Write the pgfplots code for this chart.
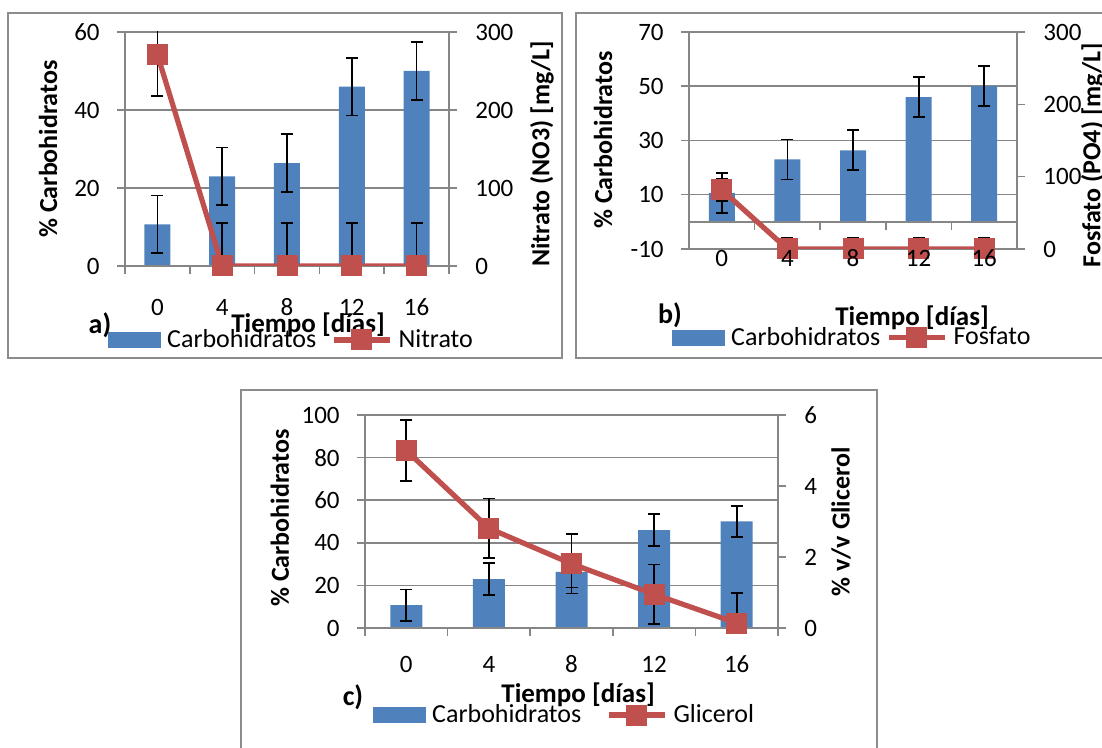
\documentclass[border=0pt]{standalone}
\usepackage{pgfplots}
\pgfplotsset{compat=1.18}
\usepackage{fontspec}
\setmainfont{Carlito}
\definecolor{barblue}{HTML}{4F81BD}
\definecolor{linered}{HTML}{C0504D}
\definecolor{axgrey}{HTML}{868686}
\definecolor{framegrey}{HTML}{8C8C8C}

\newcommand{\xaxisticks}{%
  \draw[axgrey,line width=0.75pt] (axis cs:-0.5,0) -- (axis cs:4.5,0);
  \pgfplotsinvokeforeach{-0.5,0.5,1.5,2.5,3.5,4.5}{\draw[axgrey, line width=0.75pt] (axis cs:##1,0) -- ++(0pt,-4pt);}%
}

\pgfplotsset{
  base/.style={
    scale only axis, anchor=south west,
    xmin=-0.5, xmax=4.5,
    tick align=outside, major tick length=4pt,
    tick style={axgrey, line width=0.75pt},
    axis line style={axgrey, line width=0.75pt},
    /pgf/number format/assume math mode=true,
    ticklabel style={font=\fontsize{12.5}{14}\selectfont, inner sep=0pt},
    ylabel style={font=\fontsize{13}{15}\selectfont\bfseries},
    xlabel style={font=\fontsize{13.5}{15}\selectfont\bfseries},
    clip mode=individual,
  },
  leftax/.style={base,
    axis y line*=left, axis x line*=bottom,
    xtick={0,1,2,3,4}, xticklabels={0,4,8,12,16},
    xtick style={draw=none},
    xticklabel style={anchor=center, yshift=-16.5pt},
    yticklabel style={anchor=east, xshift=-8.5pt},
    ymajorgrids, grid style={axgrey, line width=0.75pt},
  },
  rightax/.style={base,
    axis y line*=right,
    yticklabel style={anchor=west, xshift=9pt},
    legend columns=2,
    legend style={draw=none, fill=none, inner sep=0pt, anchor=west,
      font=\fontsize{13}{15}\selectfont,
      nodes={inner sep=3pt}},
    legend cell align=left,
  },
  carb/.style={ybar, bar width=13pt, fill=barblue, draw=none,
    error bars/y dir=both, error bars/y explicit,
    error bars/error bar style={black, line width=0.9pt, solid},
    error bars/error mark options={rotate=90, black, mark size=3pt, line width=0.9pt}},
  lin/.style={color=linered, line width=2.6pt, mark=square*, mark size=5pt,
    mark options={solid, fill=linered, line width=0.5pt},
    error bars/y dir=both, error bars/y explicit,
    error bars/error bar style={black, line width=0.9pt, solid},
    error bars/error mark options={rotate=90, black, mark size=3pt, line width=0.9pt},
    legend image code/.code={\draw[linered, line width=2.6pt, mark=square*, mark size=5pt, mark options={solid, fill=linered, line width=0.5pt}, mark repeat=2, mark phase=2] plot coordinates {(0pt,0pt) (14pt,0pt) (28pt,0pt)};}},
  barleg/.style={legend image code/.code={\fill[barblue] (0pt,-3.75pt) rectangle (26pt,3.75pt);}},
}

\begin{document}
\begin{tikzpicture}
\useasboundingbox (0,0) rectangle (551pt,374pt);
\draw[framegrey, line width=0.75pt] (4pt,195pt) rectangle (281pt,367.5pt);
\draw[framegrey, line width=0.75pt] (288pt,195pt) rectangle (560pt,367.5pt);
\draw[framegrey, line width=0.75pt] (120.5pt,-5pt) rectangle (438.5pt,179pt);

% ---------------- Panel a ----------------
\begin{axis}[leftax, at={(62.5pt,241pt)}, width=162pt, height=117pt,
  ymin=0, ymax=60, ytick={0,20,40,60},
  ylabel={\% Carbohidratos}, ylabel style={at={(axis description cs:-0.2377,0.5)}, anchor=center},
  xlabel={Tiempo [días]}, xlabel style={at={(axis description cs:0.565,-0.2521)}, anchor=center}]
\addplot[carb] coordinates {(0,10.7) +- (0,7.4) (1,23.0) +- (0,7.4) (2,26.4) +- (0,7.4) (3,46.0) +- (0,7.4) (4,50.0) +- (0,7.4)};
\xaxisticks
\end{axis}
\begin{axis}[rightax, axis x line=none, at={(62.5pt,241pt)}, width=162pt, height=117pt,
  ymin=0, ymax=300, ytick={0,100,200,300},
  ylabel={Nitrato (NO3) [mg/L]}, ylabel style={at={(axis description cs:1.287,0.479)}, anchor=center},
  legend style={at={(axis description cs:-0.0525,-0.316)}, /tikz/every even column/.append style={column sep=4.5pt}}]
\addlegendimage{barleg}\addlegendentry{Carbohidratos}
\addplot[lin] coordinates {(0,271) +- (0,53) (1,0) +- (0,55) (2,0) +- (0,55) (3,0) +- (0,55) (4,0) +- (0,55)};
\addlegendentry{Nitrato}
\end{axis}
\node[font=\fontsize{14}{16}\selectfont\bfseries] at (50pt,211.5pt) {a)};

% ---------------- Panel b ----------------
\begin{axis}[leftax, at={(344.5pt,249.5pt)}, width=164pt, height=108.5pt,
  ymin=-10, ymax=70, ytick={-10,10,30,50,70},
  xticklabels={},
  ylabel={\% Carbohidratos}, ylabel style={at={(axis description cs:-0.262,0.502)}, anchor=center},
  xlabel={Tiempo [días]}, xlabel style={at={(axis description cs:0.680,-0.318)}, anchor=center}]
\addplot[carb] coordinates {(0,10.7) +- (0,7.4) (1,23.0) +- (0,7.4) (2,26.4) +- (0,7.4) (3,46.0) +- (0,7.4) (4,50.0) +- (0,7.4)};
\xaxisticks
\end{axis}
\begin{axis}[rightax, at={(344.5pt,249.5pt)}, width=164pt, height=108.5pt,
  axis on top,
  axis x line*=bottom, x axis line style={opacity=0},
  xtick={0,1,2,3,4}, xticklabels={0,4,8,12,16}, xtick style={draw=none},
  xticklabel style={anchor=center, yshift=-0.5pt},
  ymin=0, ymax=300, ytick={0,100,200,300},
  ylabel={Fosfato (PO4) [mg/L]}, ylabel style={at={(axis description cs:1.2317,0.433)}, anchor=center},
  legend style={at={(axis description cs:-0.0518,-0.408)}, /tikz/every even column/.append style={column sep=0pt}}]
\addlegendimage{barleg}\addlegendentry{Carbohidratos}
\addplot[lin] coordinates {(0,81.8) +- (0,15.5) (1,0) +- (0,16) (2,0) +- (0,16) (3,0) +- (0,16) (4,0) +- (0,16)};
\addlegendentry{Fosfato}
\end{axis}
\node[font=\fontsize{14}{16}\selectfont\bfseries] at (335pt,216.5pt) {b)};

% ---------------- Panel c ----------------
\begin{axis}[leftax, at={(182.5pt,60pt)}, width=206.5pt, height=106.5pt,
  ymin=0, ymax=100, ytick={0,20,40,60,80,100},
  xticklabel style={yshift=2.5pt},
  ylabel={\% Carbohidratos}, ylabel style={at={(axis description cs:-0.206,0.516)}, anchor=center},
  xlabel={Tiempo [días]}, xlabel style={at={(axis description cs:0.516,-0.3146)}, anchor=center}]
\addplot[carb, bar width=16pt] coordinates {(0,10.7) +- (0,7.4) (1,23.0) +- (0,7.4) (2,26.4) +- (0,7.4) (3,46.0) +- (0,7.4) (4,50.0) +- (0,7.4)};
\xaxisticks
\end{axis}
\begin{axis}[rightax, axis x line=none, at={(182.5pt,60pt)}, width=206.5pt, height=106.5pt,
  ymin=0, ymax=6, ytick={0,2,4,6},
  ylabel={\% v/v Glicerol}, ylabel style={at={(axis description cs:1.1525,0.498)}, anchor=center},
  legend style={at={(axis description cs:0.0194,-0.4085)}, /tikz/every even column/.append style={column sep=9.5pt}}]
\addlegendimage{barleg}\addlegendentry{Carbohidratos}
\addplot[lin] coordinates {(0,5.0) +- (0,0.85) (1,2.81) +- (0,0.84) (2,1.81) +- (0,0.84) (3,0.95) +- (0,0.84) (4,0.14) +- (0,0.84)};
\addlegendentry{Glicerol}
\end{axis}
\node[font=\fontsize{14}{16}\selectfont\bfseries] at (176.5pt,25.5pt) {c)};
\end{tikzpicture}
\end{document}
